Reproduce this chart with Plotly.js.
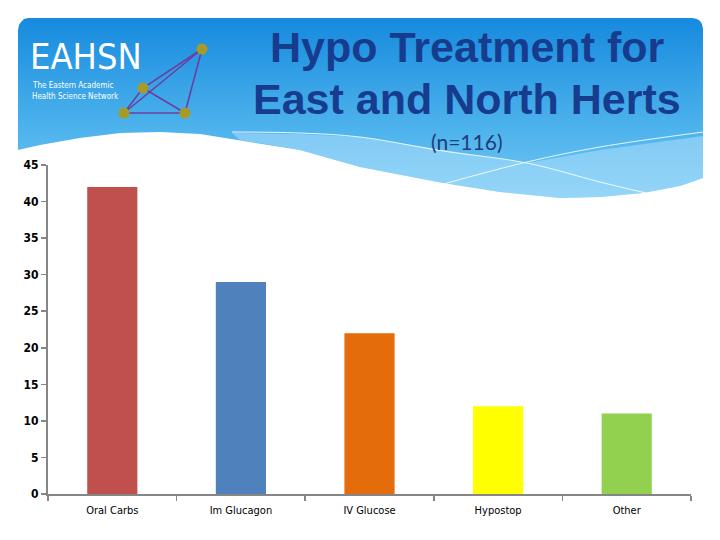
<!DOCTYPE html>
<html>
<head>
<meta charset="utf-8">
<script src="https://cdn.plot.ly/plotly-3.0.1.min.js"></script>
<style>html,body{margin:0;padding:0;background:#fff;}#chart{width:720px;height:540px;}</style>
</head>
<body>
<div id="chart"></div>
<script>
// ---- data ----
const categories = ["Oral Carbs", "Im Glucagon", "IV Glucose", "Hypostop", "Other"];
const counts = [42, 29, 22, 12, 11];
const barColors = ["#c0504d", "#4f81bd", "#e46c0a", "#ffff00", "#92d050"];
const yTicks = [0, 5, 10, 15, 20, 25, 30, 35, 40, 45];
const titleLines = ["Hypo Treatment for", "East and North Herts"];
const subtitle = "(n=116)";

// ---- decorative banner outline (pixel space) ----
const bannerX = [18, 19, 21, 24, 28, 692, 697, 700, 702, 703, 703, 680, 643, 600, 560, 500, 443, 400, 360, 300, 240, 200, 160, 120, 80, 40, 18, 18];
const bannerY = [30, 25, 22, 19, 18, 18, 19, 21, 24, 29, 178, 186, 193, 197, 198, 192, 183, 175, 167, 150, 140, 134, 132, 133, 138, 145, 150, 30];
const bandX = [232, 300, 360, 443, 527, 600, 703, 703, 680, 643, 600, 560, 500, 443, 400, 360, 300, 240, 232];
const bandY = [133, 134, 137, 150, 163, 150, 136, 178, 186, 193, 197, 198, 192, 183, 175, 167, 150, 140, 133];
const wave1X = [232, 300, 360, 443, 527, 600, 650];
const wave1Y = [132, 133, 137, 151, 163, 182, 194];
const wave2X = [440, 527, 600, 703];
const wave2Y = [185, 162, 147, 132];
const netX = [202, 124, 185, 202, 143, 124, 185, 143];
const netY = [49, 113, 113, 49, 88, 113, 113, 88];
const dotX = [202, 143, 124, 185];
const dotY = [49, 88, 113, 113];

const traces = [
  {x: bannerX, y: bannerY, xaxis: 'x', yaxis: 'y', mode: 'lines', fill: 'toself',
   line: {width: 0, color: 'rgba(0,0,0,0)'},
   fillcolor: '#3aa3e6',
   fillgradient: {type: 'vertical', colorscale: [[0, '#72c7f4'], [0.4, '#4cb2ec'], [1, '#168ade']]},
   hoverinfo: 'skip', showlegend: false},
  {x: bandX, y: bandY, xaxis: 'x', yaxis: 'y', mode: 'lines', fill: 'toself',
   line: {width: 0, color: 'rgba(0,0,0,0)'}, fillcolor: 'rgba(190,230,252,0.45)',
   hoverinfo: 'skip', showlegend: false},
  {x: wave1X, y: wave1Y, xaxis: 'x', yaxis: 'y', mode: 'lines', line: {width: 1, color: 'rgba(255,255,255,0.85)', shape: 'spline'},
   hoverinfo: 'skip', showlegend: false},
  {x: wave2X, y: wave2Y, xaxis: 'x', yaxis: 'y', mode: 'lines', line: {width: 1, color: 'rgba(255,255,255,0.85)', shape: 'spline'},
   hoverinfo: 'skip', showlegend: false},
  {x: netX, y: netY, xaxis: 'x', yaxis: 'y', mode: 'lines', line: {width: 1.6, color: '#6b3fa0'},
   hoverinfo: 'skip', showlegend: false},
  {x: dotX, y: dotY, xaxis: 'x', yaxis: 'y', mode: 'markers', marker: {size: 11, color: '#a59b2a'},
   hoverinfo: 'skip', showlegend: false},
  {type: 'bar', x: categories, y: counts, xaxis: 'x2', yaxis: 'y2',
   marker: {color: barColors, line: {width: 0}}, showlegend: false}
];

const W = 720, H = 540;
const plotL = 48, plotR = 691, plotT = 165, plotB = 494;
const narrow = '"Liberation Sans Narrow", "Arial Narrow", "DejaVu Sans Condensed", sans-serif';

const layout = {
  width: W, height: H,
  margin: {l: 0, r: 0, t: 0, b: 0, pad: 0},
  paper_bgcolor: '#ffffff', plot_bgcolor: 'rgba(0,0,0,0)',
  showlegend: false,
  bargap: 0.61,
  xaxis: {domain: [0, 1], range: [0, W], visible: false, fixedrange: true},
  yaxis: {domain: [0, 1], range: [H, 0], visible: false, fixedrange: true},
  xaxis2: {
    domain: [plotL / W, plotR / W], anchor: 'y2',
    type: 'category', categoryarray: categories,
    showline: true, linecolor: '#868686', linewidth: 2,
    ticks: 'outside', tickson: 'boundaries', ticklen: 5, tickcolor: '#868686', tickwidth: 1.5,
    ticklabelstandoff: 5,
    tickfont: {family: narrow, size: 11, color: '#000'},
    showgrid: false, zeroline: false
  },
  yaxis2: {
    domain: [(H - plotB) / H, (H - plotT) / H], anchor: 'x2',
    range: [0, 45], tickvals: yTicks, ticktext: yTicks.map(String),
    showline: true, linecolor: '#868686', linewidth: 2,
    ticks: 'outside', ticklen: 5, tickcolor: '#868686', tickwidth: 1.5,
    tickfont: {family: narrow, size: 12, color: '#000', weight: 'bold'},
    showgrid: false, zeroline: false
  },
  annotations: [
    {xref: 'x', yref: 'y', x: 467, y: 47, text: titleLines[0], showarrow: false, xanchor: 'center', yanchor: 'middle',
     font: {family: '"Liberation Sans", Arial, sans-serif', size: 43, color: '#173c8e', weight: 'bold'}},
    {xref: 'x', yref: 'y', x: 467, y: 99, text: titleLines[1], showarrow: false, xanchor: 'center', yanchor: 'middle',
     font: {family: '"Liberation Sans", Arial, sans-serif', size: 43, color: '#173c8e', weight: 'bold'}},
    {xref: 'x', yref: 'y', x: 466, y: 141, text: subtitle, showarrow: false, xanchor: 'center', yanchor: 'middle',
     font: {family: 'Lato, "Open Sans", sans-serif', size: 21, color: '#1f3d7a'}},
    {xref: 'x', yref: 'y', x: 28, y: 56, text: 'EAHSN', showarrow: false, xanchor: 'left', yanchor: 'middle',
     font: {family: narrow, size: 36, color: '#ffffff'}},
    {xref: 'x', yref: 'y', x: 30, y: 85, text: 'The Eastern Academic', showarrow: false, xanchor: 'left', yanchor: 'middle',
     font: {family: narrow, size: 8, color: '#ffffff'}},
    {xref: 'x', yref: 'y', x: 30, y: 96, text: 'Health Science Network', showarrow: false, xanchor: 'left', yanchor: 'middle',
     font: {family: narrow, size: 8, color: '#ffffff'}}
  ]
};

Plotly.newPlot('chart', traces, layout, {displayModeBar: false, staticPlot: true});
</script>
</body>
</html>
